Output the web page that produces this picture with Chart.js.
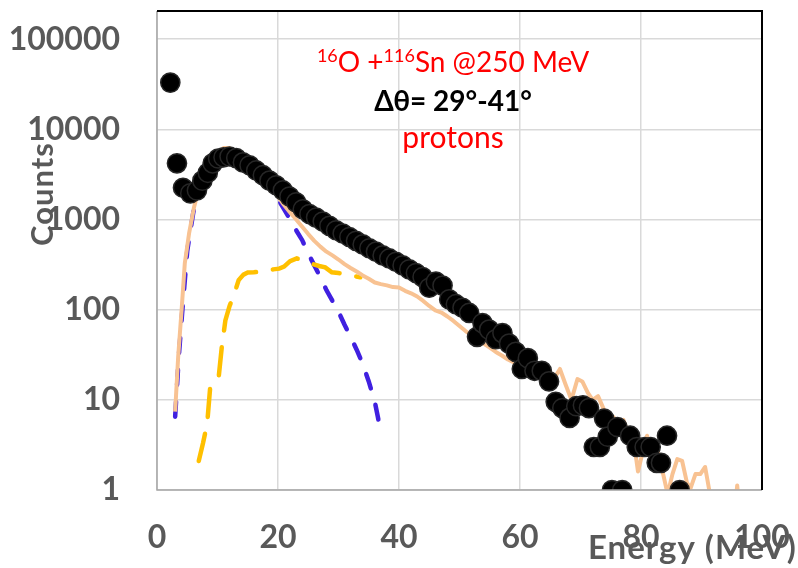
<!DOCTYPE html>
<html>
<head>
<meta charset="utf-8">
<script src="https://cdn.jsdelivr.net/npm/chart.js@4.4.1/dist/chart.umd.min.js"></script>
<style>
    html, body { margin: 0; padding: 0; background: #fff; }
    #wrap { width: 798px; height: 568px; }
</style>
</head>
<body>
<div id="wrap"><canvas id="myChart" width="798" height="568"></canvas></div>
<script>
// measured protons (black dots)
const pointEnergy = [2.2, 3.3, 4.3, 5.5, 6.6, 7.5, 8.4, 9.2, 10.1, 11.0, 12.0, 13.1, 14.2, 15.3, 16.4, 17.5, 18.6, 19.7, 20.8, 21.9,
    23.0, 24.1, 25.2, 26.3, 27.4, 28.5, 29.6, 30.7, 31.8, 32.9, 34.0, 35.1, 36.2, 37.3, 38.4, 39.5, 40.6, 41.7, 42.8, 43.9,
    45.0, 46.1, 47.2, 48.3, 49.4, 50.5, 51.6, 52.9, 53.8, 54.9, 56.0, 57.1, 58.2, 59.3, 60.3, 61.3, 62.4, 63.6, 64.8, 65.9,
    67.0, 68.2, 69.3, 70.4, 71.4, 72.2, 73.2, 73.9, 74.5, 75.2, 76.1, 76.9, 78.2, 79.3, 80.6, 81.6, 82.6, 83.3, 84.3, 86.4];
const pointCounts = [33000, 4200, 2250, 1950, 2100, 2700, 3300, 4200, 4750, 4900, 5000, 4800, 4300, 4000, 3500, 3100, 2700, 2400, 2100, 1800,
    1550, 1300, 1150, 1050, 950, 850, 760, 700, 640, 580, 530, 480, 440, 400, 370, 340, 310, 280, 255, 230,
    175, 205, 185, 130, 115, 105, 92, 50, 71, 60, 47, 55, 42, 34, 22, 29, 21, 21, 16, 9.5,
    8.1, 6.3, 8.5, 8.7, 8.1, 3, 3, 6.2, 3.9, 1, 5, 1, 4, 3, 3, 3, 2, 2, 4, 1];

// total calculation (peach line)
const totalEnergy = [3.0, 3.5, 4.1, 4.6, 5.3, 6.1, 7.0, 8.0, 9.0, 10.0, 11.0, 12.0, 13.0, 14.0, 15.0, 16.0, 17.0, 18.0, 19.0, 20.0,
    21.0, 22.0, 23.0, 24.0, 25.0, 26.0, 27.0, 28.0, 29.0, 30.0, 31.0, 32.0, 33.0, 34.0, 35.0, 36.0, 37.0, 38.0, 39.0, 40.0,
    41.0, 42.0, 43.0, 44.0, 45.0, 46.0, 47.0, 48.0, 49.0, 50.0, 51.0, 52.0, 53.0, 54.0, 55.0, 56.0, 57.0, 58.0, 59.0, 60.0,
    61.0, 62.0, 63.0, 64.0, 65.0, 65.8, 66.6, 67.5, 68.5, 69.5, 70.3, 71.2, 72.0, 72.9, 73.8, 74.6, 75.4, 76.3, 77.1, 78.0,
    78.8, 79.5, 80.2, 81.0, 81.8, 82.6, 83.4, 84.4, 85.2, 86.0, 86.8, 87.6, 88.2, 89.0, 89.8, 90.6, 91.4, 92.2, 95.4, 95.9, 96.4];
const totalCounts = [7.4, 30, 107, 330, 700, 1350, 2300, 3300, 4500, 5500, 6200, 6200, 5600, 4800, 4200, 3600, 3000, 2600, 2200, 1800,
    1450, 1200, 1000, 830, 690, 580, 500, 440, 400, 360, 320, 290, 265, 240, 220, 200, 192, 186, 178, 176,
    162, 152, 140, 125, 110, 98, 93, 84, 75, 66, 58, 52, 46, 42, 38, 34, 31, 28, 26, 24,
    25, 22, 20, 21, 17, 18, 22, 15, 10, 17, 16, 12, 10, 11, 8, 6, 6.5, 5.5, 6, 4,
    3.5, 1.6, 2.5, 4, 2.5, 3, 1.8, 0.9, 1.5, 2.2, 2.1, 1.2, 1.05, 1.5, 1.5, 1.8, 0.9, 0.5, 0.5, 1.12, 0.5];

// yellow dashed component
const yellowEnergy = [6.9, 7.6, 8.3, 8.8, 9.6, 10.2, 10.7, 11.3, 12.0, 12.7, 13.5, 14.3, 15.0, 16.0, 17.5, 19.2, 20.2, 21.0, 22.0, 23.1,
    24.0, 24.8, 25.8, 26.8, 27.8, 28.9, 30.0, 31.0, 31.9, 33.6];
const yellowCounts = [2.1, 3.3, 5.5, 14, 16, 18, 38, 76, 110, 145, 213, 245, 258, 260, 265, 280, 285, 300, 345, 370,
    355, 345, 320, 305, 295, 260, 255, 248, 240, 229];

// blue dashed component
const blueEnergy = [3.0, 3.6, 4.2, 5.0, 6.0, 7.0, 8.0, 9.0, 10.0, 11.0, 12.0, 13.0, 14.0, 15.0, 16.0, 17.0, 18.0, 19.0, 20.0, 21.0,
    22.0, 23.0, 24.0, 25.0, 26.0, 27.0, 28.0, 29.0, 30.0, 31.0, 32.0, 33.0, 34.0, 35.0, 36.0, 36.5, 37.0];
const blueCounts = [6.5, 30, 100, 450, 1200, 2200, 3200, 4200, 5000, 5400, 5500, 5200, 4600, 4000, 3400, 2900, 2500, 2100, 1700, 1300,
    1000, 760, 590, 420, 310, 230, 165, 125, 95, 68, 50, 36, 25, 16, 9.5, 6.5, 4.3];

const xTicks = [0, 20, 40, 60, 80, 100];
const yTicks = [1, 10, 100, 1000, 10000, 100000];

const gray = "#595959";
const tickFont = {family: "Lato", size: 32, weight: "bold"};

function pairs(xs, ys) {
    return xs.map((x, i) => ({x: x, y: ys[i]}));
}

function noPad(scale) {
    scale.paddingTop = 0;
    scale.paddingBottom = 0;
    scale.paddingLeft = 0;
    scale.paddingRight = 0;
}

// texts drawn on the canvas: frame, axis titles, annotation
const overlay = {
    id: "overlay",
    afterDatasetsDraw(chart) {
        const ctx = chart.ctx;
        const a = chart.chartArea;
        ctx.save();
        // frame
        ctx.lineWidth = 1.5;
        ctx.strokeStyle = "#a6a6a6";
        ctx.beginPath();
        ctx.moveTo(a.left, a.top);
        ctx.lineTo(a.left, a.bottom);
        ctx.lineTo(a.right, a.bottom);
        ctx.stroke();
        ctx.strokeStyle = "#000";
        ctx.lineWidth = 2;
        ctx.beginPath();
        ctx.moveTo(a.left, a.top);
        ctx.lineTo(a.right, a.top);
        ctx.lineTo(a.right, a.bottom);
        ctx.stroke();

        // axis titles
        ctx.fillStyle = gray;
        ctx.textBaseline = "alphabetic";
        ctx.textAlign = "left";
        ctx.font = "bold 33px Lato";
        ctx.letterSpacing = "1px";
        ctx.fillText("Energy (MeV)", 588, 559);
        ctx.font = "bold 31px Lato";
        ctx.save();
        ctx.translate(53, 194);
        ctx.rotate(-Math.PI / 2);
        ctx.textAlign = "center";
        ctx.fillText("Counts", 0, 0);
        ctx.restore();
        ctx.letterSpacing = "0px";

        // annotation, line 1 with superscripts
        const cx = 453;
        const parts = [
            {t: "16", sup: true},
            {t: "O +", sup: false},
            {t: "116", sup: true},
            {t: "Sn @250 MeV", sup: false}
        ];
        const big = "28px Lato";
        const small = "18px Lato";
        let total = 0;
        for (const p of parts) {
            ctx.font = p.sup ? small : big;
            p.w = ctx.measureText(p.t).width;
            total += p.w;
        }
        let x = cx - total / 2;
        ctx.fillStyle = "#ff0000";
        ctx.textAlign = "left";
        for (const p of parts) {
            ctx.font = p.sup ? small : big;
            ctx.fillText(p.t, x, p.sup ? 62 : 72);
            x += p.w;
        }

        ctx.textAlign = "center";
        ctx.fillStyle = "#000";
        ctx.font = "bold 28px Lato";
        ctx.fillText("\u0394\u03b8= 29\u00b0-41\u00b0", cx, 111);
        ctx.fillStyle = "#ff0000";
        ctx.font = "30px Lato";
        ctx.fillText("protons", cx, 148);
        ctx.restore();
    }
};

const ctx = document.getElementById("myChart");

new Chart(ctx, {
    type: "scatter",
    data: {
        datasets: [
            {
                label: "data",
                data: pairs(pointEnergy, pointCounts),
                pointRadius: 9.6,
                pointBorderWidth: 1.5,
                pointBackgroundColor: "#000",
                pointBorderColor: "#262626",
                showLine: false
            },
            {
                label: "total",
                data: pairs(totalEnergy, totalCounts),
                showLine: true,
                borderColor: "#f8c292",
                borderWidth: 4,
                pointRadius: 0,
                borderJoinStyle: "round"
            },
            {
                label: "yellow",
                data: pairs(yellowEnergy, yellowCounts),
                showLine: true,
                borderColor: "#ffc000",
                borderWidth: 4.5,
                borderDash: [28, 17],
                borderCapStyle: "round",
                pointRadius: 0
            },
            {
                label: "blue",
                data: pairs(blueEnergy, blueCounts),
                showLine: true,
                borderColor: "#4020e0",
                borderWidth: 4.5,
                borderDash: [15, 17],
                borderCapStyle: "round",
                pointRadius: 0
            }
        ]
    },
    options: {
        responsive: false,
        animation: false,
        layout: {padding: {top: 9, right: 36, left: 0, bottom: 0}},
        plugins: {
            legend: {display: false},
            tooltip: {enabled: false}
        },
        scales: {
            x: {
                type: "linear",
                min: 0,
                max: 100,
                afterBuildTicks: (scale) => { scale.ticks = xTicks.map(v => ({value: v})); },
                afterFit: (scale) => { scale.height = 78; noPad(scale); },
                grid: {color: "#d9d9d9", lineWidth: 1.5, drawTicks: false},
                border: {display: false},
                ticks: {color: gray, font: tickFont, padding: 28, maxRotation: 0}
            },
            y: {
                type: "logarithmic",
                min: 1,
                max: 205000,
                afterBuildTicks: (scale) => { scale.ticks = yTicks.map(v => ({value: v})); },
                afterFit: (scale) => { scale.width = 157; noPad(scale); },
                grid: {color: "#d9d9d9", lineWidth: 1.5, drawTicks: false},
                border: {display: false},
                ticks: {color: gray, font: tickFont, padding: 37, callback: (v) => String(v)}
            }
        }
    },
    plugins: [overlay]
});
</script>
</body>
</html>
